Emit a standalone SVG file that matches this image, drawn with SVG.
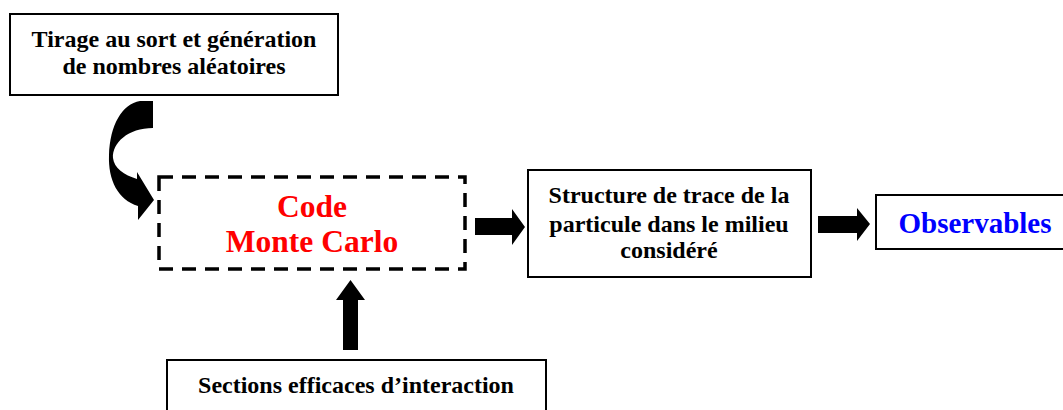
<svg xmlns="http://www.w3.org/2000/svg" width="1063" height="410" viewBox="0 0 1063 410">
  <style>
    .box { fill: #ffffff; stroke: #000000; stroke-width: 2; }
    .dash { fill: none; stroke: #000000; stroke-width: 3.5; stroke-dasharray: 14 9; }
    .t { font-family: "Liberation Serif", "Times New Roman", serif; font-weight: bold; font-size: 24px; fill: #000000; text-anchor: middle; }
    .red { font-size: 31.5px; fill: #ff0000; }
    .blue { font-size: 29px; fill: #0000ff; }
    .arr { fill: #000000; stroke: none; }
  </style>
  <rect width="1063" height="410" fill="#ffffff"/>

  <g id="node-tirage">
    <rect class="box" x="10" y="14" width="328" height="81"/>
    <text class="t" x="174" y="47">Tirage au sort et génération</text>
    <text class="t" x="174" y="74">de nombres aléatoires</text>
  </g>

  <g id="node-code">
    <rect class="dash" x="159" y="177" width="306" height="92"/>
    <text class="t red" x="312" y="217">Code</text>
    <text class="t red" x="312" y="252">Monte Carlo</text>
  </g>

  <g id="node-structure">
    <rect class="box" x="528" y="170" width="283" height="107"/>
    <text class="t" x="669" y="203">Structure de trace de la</text>
    <text class="t" x="669" y="232">particule dans le milieu</text>
    <text class="t" x="669" y="258">considéré</text>
  </g>

  <g id="node-observables">
    <rect class="box" x="876" y="195" width="200" height="54"/>
    <text class="t blue" x="975" y="233">Observables</text>
  </g>

  <g id="node-sections">
    <rect class="box" x="167" y="360" width="379" height="70"/>
    <text class="t" x="356" y="393">Sections efficaces d’interaction</text>
  </g>

  <g id="connectors">
    <path class="arr" d="M 140,101 L 153,101 L 153,128 C 128,128 112,143 113,158 C 114,168 124,175 137,179 L 137,172 L 154,200 L 138,220 L 138,206 C 118,200 108,180 109,155 C 110,125 122,104 140,101 Z"/>
    <path class="arr" d="M 475,218 L 512,218 L 512,209 L 525,227 L 512,245 L 512,235 L 475,235 Z"/>
    <path class="arr" d="M 818,216 L 857,216 L 857,208 L 870,224 L 857,241 L 857,233 L 818,233 Z"/>
    <path class="arr" d="M 343,350 L 343,300 L 336,300 L 350.5,280 L 365,300 L 358,300 L 358,350 Z"/>
  </g>
</svg>
